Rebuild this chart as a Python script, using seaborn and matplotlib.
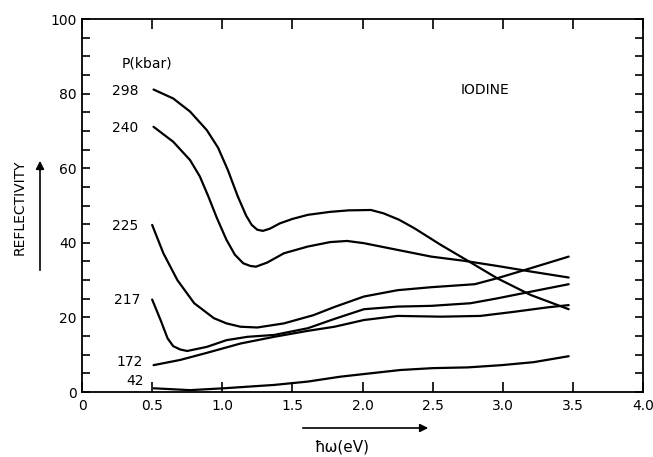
import matplotlib
matplotlib.use("Agg")
import matplotlib.pyplot as plt
import seaborn as sns
import numpy as np

# photon energy (eV) and reflectivity (%), one pair per pressure
x_298 = [0.51, 0.65, 0.77, 0.89, 0.97, 1.04, 1.11, 1.17, 1.21, 1.25, 1.29, 1.34, 1.41, 1.50, 1.61, 1.77, 1.90, 2.06, 2.15, 2.26, 2.37, 2.56, 2.75, 2.96, 3.20, 3.47]
y_298 = [81.1, 78.7, 75.2, 70.2, 65.5, 59.5, 52.5, 47.3, 44.8, 43.5, 43.2, 43.8, 45.2, 46.4, 47.5, 48.3, 48.7, 48.8, 47.9, 46.2, 43.9, 39.4, 35.2, 30.5, 26.0, 22.2]

x_240 = [0.51, 0.65, 0.77, 0.84, 0.90, 0.96, 1.03, 1.09, 1.15, 1.20, 1.24, 1.32, 1.44, 1.61, 1.77, 1.89, 2.01, 2.25, 2.49, 2.72, 2.96, 3.20, 3.47]
y_240 = [71.1, 67.1, 62.2, 57.8, 52.5, 46.8, 40.8, 36.8, 34.5, 33.8, 33.6, 34.7, 37.2, 39.0, 40.2, 40.5, 39.9, 38.1, 36.3, 35.2, 33.8, 32.3, 30.7]

x_225 = [0.50, 0.58, 0.68, 0.80, 0.94, 1.03, 1.13, 1.25, 1.44, 1.65, 1.80, 2.01, 2.25, 2.49, 2.80, 2.96, 3.20, 3.47]
y_225 = [44.8, 37.2, 30.0, 23.8, 19.8, 18.4, 17.5, 17.3, 18.4, 20.6, 22.8, 25.6, 27.3, 28.1, 28.9, 30.5, 33.2, 36.3]

x_217 = [0.50, 0.56, 0.61, 0.65, 0.70, 0.75, 0.89, 1.03, 1.18, 1.37, 1.61, 1.80, 2.01, 2.25, 2.49, 2.77, 2.96, 3.20, 3.47]
y_217 = [24.8, 19.3, 14.4, 12.3, 11.4, 11.0, 12.1, 13.9, 14.8, 15.3, 17.1, 19.6, 22.2, 22.9, 23.1, 23.8, 25.1, 26.9, 28.9]

x_172 = [0.51, 0.70, 0.89, 1.13, 1.37, 1.61, 1.80, 2.01, 2.25, 2.56, 2.84, 3.08, 3.32, 3.47]
y_172 = [7.2, 8.6, 10.5, 13.0, 14.8, 16.4, 17.5, 19.3, 20.4, 20.2, 20.4, 21.5, 22.7, 23.3]

x_42 = [0.51, 0.77, 1.01, 1.37, 1.61, 1.84, 2.03, 2.27, 2.50, 2.75, 2.99, 3.22, 3.47]
y_42 = [1.0, 0.5, 1.0, 1.9, 2.8, 4.1, 4.9, 5.9, 6.4, 6.6, 7.2, 8.0, 9.6]

pressures = ['298', '240', '225', '217', '172', '42']
label_x = [0.31, 0.31, 0.31, 0.32, 0.34, 0.38]
label_y = [80.8, 70.9, 44.5, 24.7, 8.0, 3.0]

x_ticks = [0, 0.5, 1.0, 1.5, 2.0, 2.5, 3.0, 3.5, 4.0]
x_tick_labels = ['0', '0.5', '1.0', '1.5', '2.0', '2.5', '3.0', '3.5', '4.0']
y_ticks = [0, 20, 40, 60, 80, 100]

sns.set_theme(style='ticks')
plt.rcParams['font.family'] = ['DejaVu Sans']
plt.rcParams['text.color'] = 'black'

fig = plt.figure(figsize=(6.53, 4.57), dpi=100)
ax = fig.add_axes([0.1256, 0.1422, 0.8591, 0.8162])

curves = [(x_298, y_298), (x_240, y_240), (x_225, y_225),
          (x_217, y_217), (x_172, y_172), (x_42, y_42)]
for xs, ys in curves:
    sns.lineplot(x=xs, y=ys, ax=ax, color='black', linewidth=1.6, sort=False)

for p, lx, ly in zip(pressures, label_x, label_y):
    ax.text(lx, ly, p, ha='center', va='center', fontsize=10, color='black')
ax.text(0.46, 88, 'P(kbar)', ha='center', va='center', fontsize=10, color='black')
ax.text(2.87, 81, 'IODINE', ha='center', va='center', fontsize=10, color='black')

ax.set_xlim(0, 4.0)
ax.set_ylim(0, 100)
ax.set_xticks(x_ticks)
ax.set_xticklabels(x_tick_labels)
ax.set_yticks(y_ticks)
ax.set_yticks(np.arange(0, 101, 5), minor=True)
ax.tick_params(axis='both', which='both', direction='in', colors='black',
               labelsize=10, width=1.2)
ax.tick_params(axis='x', which='major', length=7, top=True, pad=5)
ax.tick_params(axis='y', which='both', length=6, right=True, pad=4)
for s in ax.spines.values():
    s.set_linewidth(1.3)
    s.set_color('black')
ax.set_xlabel('')
ax.set_ylabel('')

# axis titles with arrows, as in the original drawing
fig.text(20 / 653, 1 - 207 / 457, 'REFLECTIVITY', rotation=90,
         ha='center', va='center', fontsize=10, color='black')
fig.text(342 / 653, 1 - 447 / 457, 'ħω(eV)', ha='center', va='center',
         fontsize=11, color='black')
ax.annotate('', xy=(40 / 653, 1 - 158 / 457), xytext=(40 / 653, 1 - 273 / 457),
            xycoords='figure fraction', textcoords='figure fraction',
            arrowprops=dict(arrowstyle='-|>', color='black', lw=1.2))
ax.annotate('', xy=(431 / 653, 1 - 428 / 457), xytext=(300 / 653, 1 - 428 / 457),
            xycoords='figure fraction', textcoords='figure fraction',
            arrowprops=dict(arrowstyle='-|>', color='black', lw=1.2))

fig.savefig('out.png', dpi=100, facecolor='white')
